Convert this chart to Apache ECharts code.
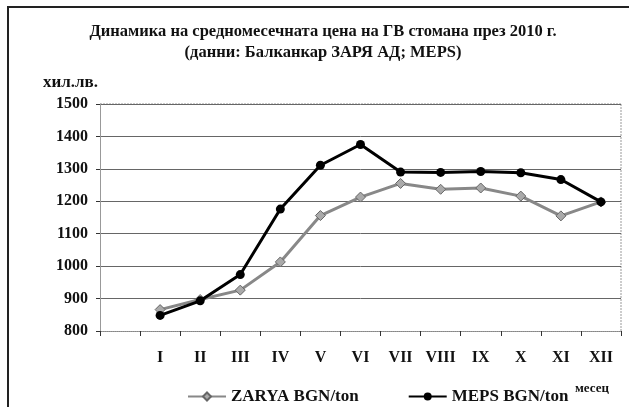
<!DOCTYPE html>
<html>
	<head>
		<meta charset="UTF-8">
		<title>echars</title>
		<script src="https://cdn.jsdelivr.net/npm/echarts@6/dist/echarts.min.js"></script>
		<style>
			html, body { margin: 0; padding: 0; background: #fff; }
			#main { width: 629px; height: 407px; }
		</style>
	</head>
	<body>
		<div id="main"></div>
		<script>
			// first slot is the empty band left of January
			var months = ['', 'I', 'II', 'III', 'IV', 'V', 'VI', 'VII', 'VIII', 'IX', 'X', 'XI', 'XII'];
			var zarya = [null, 866, 897, 926, 1013, 1156, 1213, 1255, 1237, 1241, 1216, 1155, 1198];
			var meps = [null, 848, 893, 974, 1176, 1311, 1375, 1290, 1289, 1292, 1288, 1267, 1198];
			var yTicks = [800, 900, 1000, 1100, 1200, 1300, 1400, 1500];

			var serif = '"Liberation Serif", "DejaVu Serif", serif';
			var chart = echarts.init(document.getElementById('main'));
			chart.setOption({
				backgroundColor: '#fff',
				animation: false,
				title: {
					text: 'Динамика на средномесечната цена на ГВ стомана през 2010 г.\n(данни: Балканкар ЗАРЯ АД; MEPS)',
					left: 318,
					top: 16,
					textAlign: 'center',
					textStyle: { fontFamily: serif, fontWeight: 'bold', fontSize: 16.5, lineHeight: 21, color: '#111' }
				},
				legend: {
					top: 388,
					left: 187,
					padding: 0,
					itemGap: 49,
					itemWidth: 38,
					itemHeight: 10,
					textStyle: { fontFamily: serif, fontWeight: 'bold', fontSize: 17, color: '#111' },
					data: ['ZARYA BGN/ton', 'MEPS BGN/ton']
				},
				grid: { left: 100, right: 8, top: 104, bottom: 76 },
				xAxis: {
					type: 'category',
					data: months,
					boundaryGap: true,
					axisLine: { lineStyle: { color: '#999', type: 'dotted' } },
					axisTick: { show: true, length: 5, lineStyle: { color: '#333' } },
					axisLabel: { margin: 19, fontFamily: serif, fontWeight: 'bold', fontSize: 16, color: '#111' }
				},
				yAxis: {
					type: 'value',
					min: yTicks[0],
					max: yTicks[yTicks.length - 1],
					interval: 100,
					name: 'хил.лв.',
					nameGap: 13,
					nameTextStyle: { fontFamily: serif, fontWeight: 'bold', fontSize: 17, color: '#111', align: 'right', padding: [0, 2, 0, 0] },
					axisLine: { show: true, lineStyle: { color: '#999' } },
					axisTick: { show: true, length: 4, lineStyle: { color: '#333' } },
					axisLabel: {
						margin: 12, fontFamily: serif, fontWeight: 'bold', fontSize: 16, color: '#111',
						formatter: function (v) { return String(v); }
					},
					splitLine: { lineStyle: { color: '#666', width: 1 } }
				},
				series: [{
					name: 'ZARYA BGN/ton',
					type: 'line',
					data: zarya,
					symbol: 'diamond',
					symbolSize: 10,
					itemStyle: { color: '#aaa', borderColor: '#666', borderWidth: 1 },
					lineStyle: { color: '#888', width: 3 },
					z: 2
				}, {
					name: 'MEPS BGN/ton',
					type: 'line',
					data: meps,
					symbol: 'circle',
					symbolSize: 9,
					itemStyle: { color: '#000' },
					lineStyle: { color: '#000', width: 3 },
					z: 3
				}],
				graphic: [{
					type: 'polyline',
					shape: { points: [[8, 407], [8, 7], [629, 7]] },
					style: { stroke: '#222', lineWidth: 2, fill: null }
				}, {
					type: 'line',
					shape: { x1: 621, y1: 104, x2: 621, y2: 331 },
					style: { stroke: '#999', lineWidth: 1, lineDash: [2, 1] }
				}, {
					type: 'line',
					shape: { x1: 100, y1: 104, x2: 621, y2: 104 },
					style: { stroke: '#999', lineWidth: 1, lineDash: [2, 1] }
				}, {
					type: 'text',
					left: 575,
					top: 382,
					style: { text: 'месец', font: 'bold 13px ' + serif, fill: '#111' }
				}]
			});
		</script>
	</body>
</html>
